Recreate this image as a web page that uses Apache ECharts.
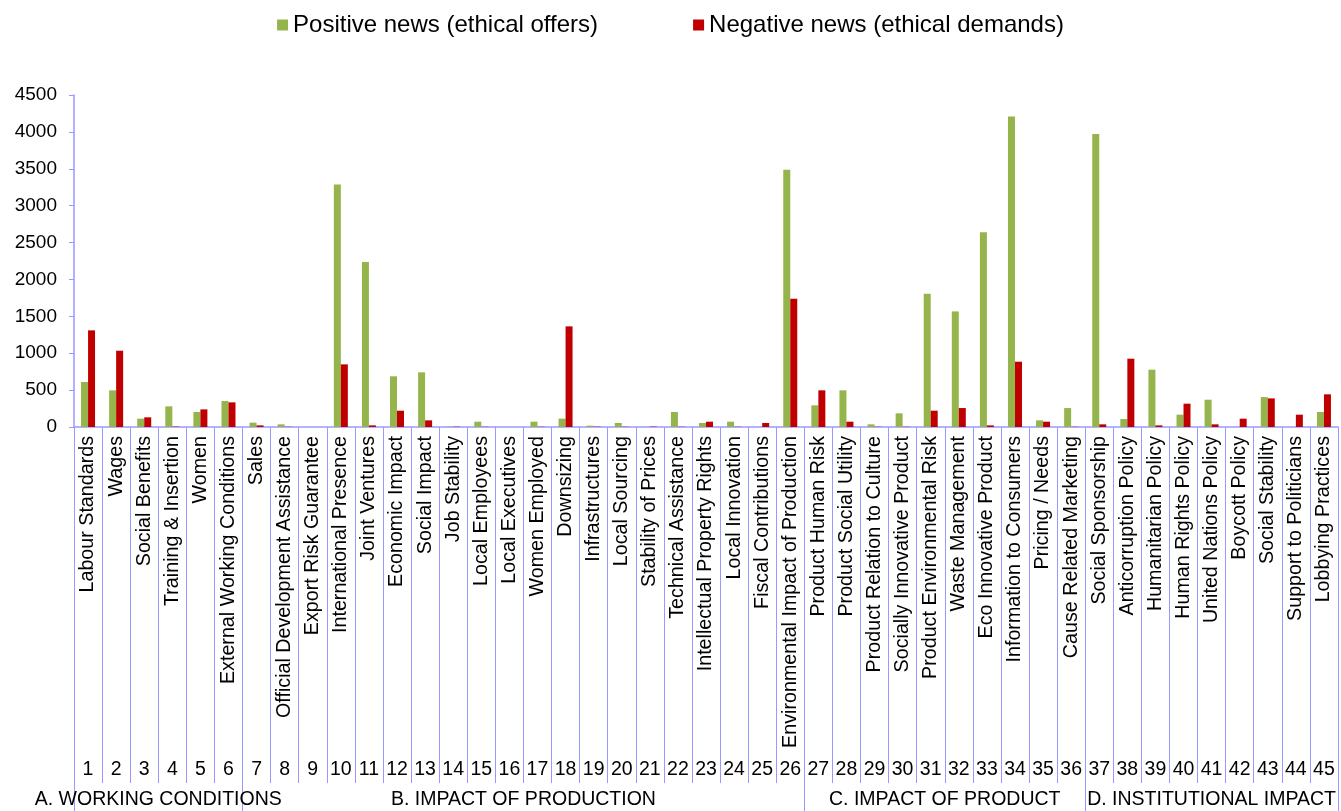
<!DOCTYPE html>
<html>
<head>
<meta charset="utf-8">
<script src="https://cdn.jsdelivr.net/npm/echarts@6/dist/echarts.min.js"></script>
<style>html,body{margin:0;padding:0;background:#fff}#c{width:1341px;height:811px}</style>
</head>
<body>
<div id="c"></div>
<script>
var categories = ["Labour Standards","Wages","Social Benefits","Training & Insertion","Women","External Working Conditions","Sales","Official Development Assistance","Export Risk Guarantee","International Presence","Joint Ventures","Economic Impact","Social Impact","Job Stability","Local Employees","Local Executives","Women Employed","Downsizing","Infrastructures","Local Sourcing","Stability of Prices","Technical Assistance","Intellectual Property Rights","Local Innovation","Fiscal Contributions","Environmental Impact of Production","Product Human Risk","Product Social Utility","Product Relation to Culture","Socially Innovative Product","Product Environmental Risk","Waste Management","Eco Innovative Product","Information to Consumers","Pricing / Needs","Cause Related Marketing","Social Sponsorship","Anticorruption Policy","Humanitarian Policy","Human Rights Policy","United Nations Policy","Boycott Policy","Social Stability","Support to Politicians","Lobbying Practices"];
var numberLabels = ["1","2","3","4","5","6","7","8","9","10","11","12","13","14","15","16","17","18","19","20","21","22","23","24","25","26","27","28","29","30","31","32","33","34","35","36","37","38","39","40","41","42","43","44","45"];
var positiveNews = [610,497,113,280,203,352,59,36,0,3288,2236,687,741,5,72,0,72,113,18,54,3,203,54,72,0,3487,294,497,36,185,1807,1567,2638,4210,90,257,3970,108,777,167,370,0,406,0,203];
var negativeNews = [1310,1034,131,5,239,334,22,3,0,849,22,221,90,4,3,0,3,1364,4,3,5,3,72,3,54,1739,497,72,3,3,221,257,22,885,72,3,36,926,22,316,36,113,388,167,443];
var groupNames = ["A. WORKING CONDITIONS","B. IMPACT OF PRODUCTION","C. IMPACT OF PRODUCT","D. INSTITUTIONAL IMPACT"];
var groupBounds = [0,6,26,36,45];
var yTicks = [0,500,1000,1500,2000,2500,3000,3500,4000,4500];

var FONT = "'Liberation Sans', Arial, sans-serif";
var groupCenters = [];
for (var i = 0; i < groupNames.length; i++) groupCenters.push((groupBounds[i] + groupBounds[i+1]) / 2);

var chart = echarts.init(document.getElementById('c'), null, {renderer: 'canvas'});
chart.setOption({
  animation: false,
  backgroundColor: '#fff',
  textStyle: {fontFamily: FONT},
  legend: {
    top: 8, left: 'center', itemGap: 95, itemWidth: 11, itemHeight: 11,
    icon: 'rect',
    textStyle: {fontSize: 24, color: '#000', fontFamily: FONT},
    data: ['Positive news (ethical offers)', 'Negative news (ethical demands)']
  },
  grid: {left: 74, right: 3, top: 95, bottom: 384, containLabel: false},
  xAxis: [
    {
      type: 'category', data: categories, position: 'bottom',
      axisLine: {lineStyle: {color: '#9999ff', width: 1.5}},
      axisTick: {show: true, length: 356, lineStyle: {color: '#9999ff', width: 1}},
      axisLabel: {rotate: 90, interval: 0, fontSize: 19.7, color: '#000', margin: 9, fontFamily: FONT},
      splitLine: {show: false}
    },
    {
      type: 'category', data: numberLabels, position: 'bottom',
      axisLine: {show: false}, axisTick: {show: false},
      axisLabel: {interval: 0, fontSize: 19.5, color: '#000', margin: 333, fontFamily: FONT},
      splitLine: {show: false}
    },
    {
      type: 'value', min: 0, max: 45, position: 'bottom',
      axisLine: {show: false},
      splitLine: {show: false},
      axisTick: {show: true, customValues: groupBounds, length: 384, lineStyle: {color: '#9999ff', width: 1}},
      axisLabel: {
        customValues: groupCenters, fontSize: 19.5, color: '#000', margin: 363, fontFamily: FONT,
        formatter: function (v) {
          var idx = groupCenters.indexOf(v);
          return idx >= 0 ? groupNames[idx] : '';
        }
      }
    }
  ],
  yAxis: {
    type: 'value', min: yTicks[0], max: yTicks[yTicks.length - 1], interval: 500,
    axisLine: {show: true, lineStyle: {color: '#9999ff', width: 1.5}},
    axisTick: {show: true, length: 5, lineStyle: {color: '#9999ff'}},
    axisLabel: {fontSize: 19, color: '#000', margin: 17, fontFamily: FONT,
      formatter: function (v) { return String(v); }},
    splitLine: {show: false}
  },
  series: [
    {
      name: 'Positive news (ethical offers)', type: 'bar', xAxisIndex: 0,
      data: positiveNews, barWidth: 7, barGap: '0%',
      itemStyle: {color: '#95b54c'}
    },
    {
      name: 'Negative news (ethical demands)', type: 'bar', xAxisIndex: 0,
      data: negativeNews, barWidth: 7, barGap: '0%',
      itemStyle: {color: '#c00000'}
    }
  ]
});
</script>
</body>
</html>
